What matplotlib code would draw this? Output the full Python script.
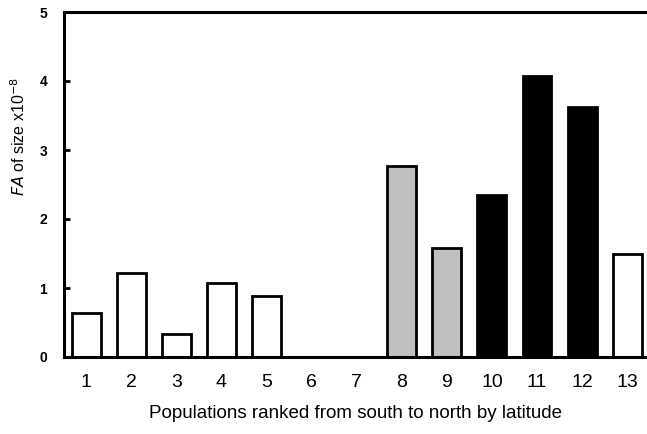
import matplotlib
matplotlib.use("Agg")
import matplotlib.pyplot as plt

# populations ranked south -> north
populations = [1, 2, 3, 4, 5, 6, 7, 8, 9, 10, 11, 12, 13]
fa_size = [0.64, 1.22, 0.34, 1.07, 0.89, 0.0, 0.0, 2.77, 1.58, 2.35, 4.07, 3.62, 1.49]
groups = ["white", "white", "white", "white", "white", "white", "white",
          "grey", "grey", "black", "black", "black", "white"]
y_ticks = [0, 1, 2, 3, 4, 5]

fill = {"white": "white", "grey": "#c0c0c0", "black": "black"}

plt.rcParams['font.family'] = ['Liberation Sans', 'DejaVu Sans']

fig = plt.figure(figsize=(6.47, 4.34), dpi=100)
ax = fig.add_axes([64 / 647, 1 - 357 / 434, 1 - 64 / 647, (357 - 12) / 434])

ax.bar(populations, fa_size, width=0.64,
       color=[fill[g] for g in groups], edgecolor="black", linewidth=2)

ax.set_xlim(0.51, 13.44)
ax.set_ylim(0, 5)
ax.set_yticks(y_ticks)
ax.set_xticks(populations)
ax.tick_params(axis="x", length=0, labelsize=14, pad=12)
ax.tick_params(axis="y", direction="in", length=4, width=2, labelsize=10, pad=12)
for t in ax.get_yticklabels():
    t.set_fontweight("bold")

for s in ax.spines.values():
    s.set_linewidth(2.2)
ax.spines["right"].set_visible(False)

ax.set_xlabel("Populations ranked from south to north by latitude", fontsize=13.5, labelpad=10)
ax.set_ylabel("$\\mathit{FA}$ of size x10$^{-8}$", fontsize=11.5)
ax.yaxis.set_label_coords(-0.062, 0.638)

fig.savefig("out.png", dpi=100)
